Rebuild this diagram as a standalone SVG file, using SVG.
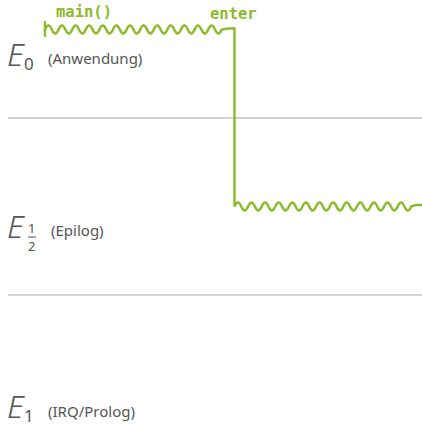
<svg xmlns="http://www.w3.org/2000/svg" width="422" height="426" viewBox="0 0 422 426">
<style>
.sep{stroke:#aaaaaa;stroke-width:1.2;fill:none}
.flow{stroke:#8bbb2a;stroke-width:2.4;fill:none;stroke-linejoin:miter}
.code{font-family:"DejaVu Sans Mono","Liberation Mono",monospace;font-size:15.5px;fill:#8bbb2a;font-weight:bold}
.lvl{font-family:"Noto Sans","Open Sans",sans-serif;font-style:italic;font-weight:300;font-size:32px;fill:#555555}
.sub{font-family:"Noto Sans","Open Sans",sans-serif;font-size:17px;fill:#555555}
.frac{font-family:"Noto Sans","Open Sans",sans-serif;font-size:13px;fill:#555555}
.desc{font-family:"Noto Sans","Open Sans",sans-serif;font-size:15px;fill:#555555}
</style>
<rect width="422" height="426" fill="#ffffff"/>
<g id="separators">
<line class="sep" x1="8" y1="118" x2="422" y2="118"/>
<line class="sep" x1="8" y1="295" x2="422" y2="295"/>
</g>
<g id="level-e0">
<text class="lvl" x="7" y="66">E</text>
<text class="sub" x="24" y="70">0</text>
<text class="desc" x="48" y="64">(Anwendung)</text>
</g>
<g id="level-e12">
<text class="lvl" x="7" y="238">E</text>
<text class="frac" x="28" y="233">1</text>
<line x1="28" y1="237" x2="36" y2="237" stroke="#555555" stroke-width="1"/>
<text class="frac" x="28" y="251">2</text>
<text class="desc" x="51" y="236">(Epilog)</text>
</g>
<g id="level-e1">
<text class="lvl" x="7" y="418">E</text>
<text class="sub" x="24" y="422">1</text>
<text class="desc" x="48" y="417">(IRQ/Prolog)</text>
</g>
<g id="labels">
<text class="code" x="56" y="17">main()</text>
<text class="code" x="210" y="19">enter</text>
</g>
<g id="connectors">
<line class="flow" x1="45" y1="21" x2="45" y2="37"/>
<path class="flow" d="M45,29.5 q3.4,-8 6.8,0 t6.8,0 t6.8,0 t6.8,0 t6.8,0 t6.8,0 t6.8,0 t6.8,0 t6.8,0 t6.8,0 t6.8,0 t6.8,0 t6.8,0 t6.8,0 t6.8,0 t6.8,0 t6.8,0 t6.8,0 t6.8,0 t6.8,0 t6.8,0 t6.8,0 t6.8,0 t6.8,0 t6.8,0 t6.8,0 L228,28.5 H234.5 V206.5"/>
<path class="flow" d="M234.5,206.5 q3.4,-8 6.8,0 t6.8,0 t6.8,0 t6.8,0 t6.8,0 t6.8,0 t6.8,0 t6.8,0 t6.8,0 t6.8,0 t6.8,0 t6.8,0 t6.8,0 t6.8,0 t6.8,0 t6.8,0 t6.8,0 t6.8,0 t6.8,0 t6.8,0 t6.8,0 t6.8,0 t6.8,0 t6.8,0 t6.8,0 t6.8,0 L416,205 H422"/>
</g>
</svg>
